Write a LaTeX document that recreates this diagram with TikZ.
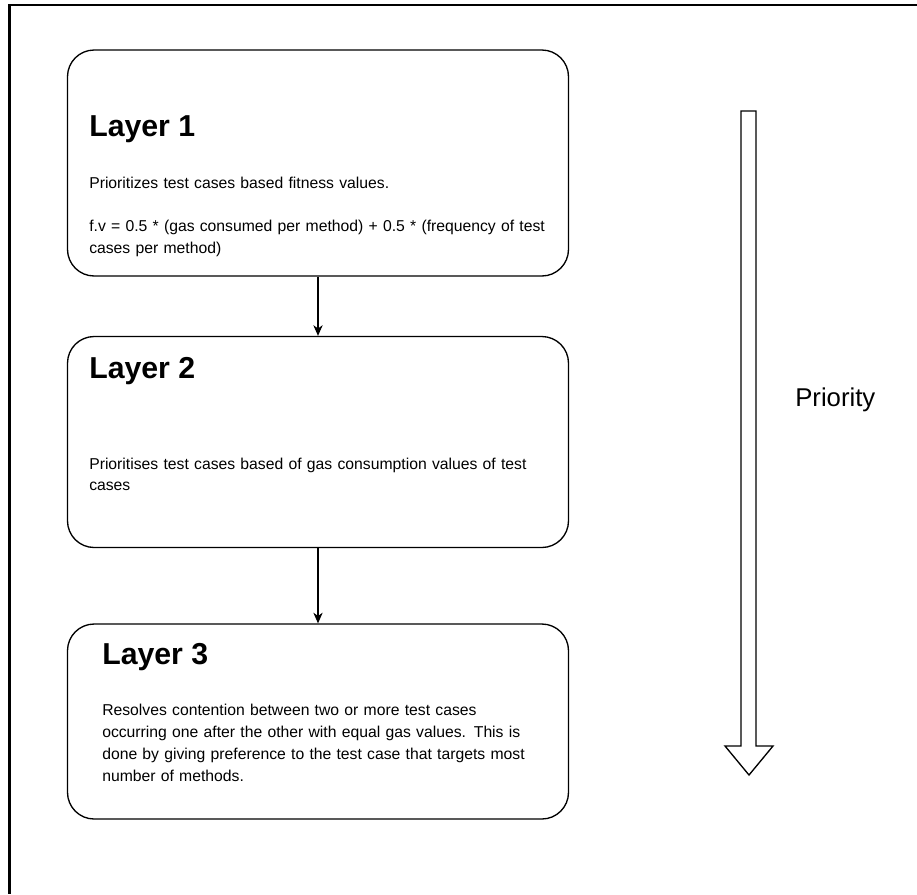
\documentclass[tikz,border=0pt]{standalone}
\usepackage{fontspec}
\setmainfont{Liberation Sans}
\usetikzlibrary{arrows.meta}
\begin{document}
\begin{tikzpicture}[x=0.75pt,y=-0.75pt,
  layerbox/.style={draw=black,line width=1pt,rounded corners=20pt,minimum width=375.75pt,inner sep=0pt},
  heading/.style={anchor=base west,inner sep=0pt,font=\fontsize{22.7}{27}\selectfont\bfseries},
  bodytext/.style={anchor=base west,inner sep=0pt,text width=360pt,align=left,font=\fontsize{11.8}{16.3}\selectfont},
  link/.style={draw=black,line width=0.8pt,-{Stealth[length=8pt,width=7pt,inset=2.5pt]}}]
\useasboundingbox (0,0) rectangle (917,894);
% frame
\draw[line width=1.6pt] (917,5) -- (9.5,5) -- (9.5,894);
% boxes
\node[layerbox,minimum height=169.5pt] (b1) at (318,163) {};
\node[layerbox,minimum height=158.25pt] (b2) at (318,442) {};
\node[layerbox,minimum height=146.25pt] (b3) at (318,721.5) {};
% texts
\node[heading] (h1) at (89,136.5) {Layer 1};
\node[bodytext] (t1) at (89,188.3) {Prioritizes test cases based fitness values.\\[16.3pt]
f.v = 0.5 * (gas consumed per method) + 0.5 * (frequency of test\\ cases per method)};
\node[heading] (h2) at (89,378.3) {Layer 2};
\node[bodytext] (t2) at (89,469) {Prioritises test cases based of gas consumption values of test\\ cases};
\node[heading] (h3) at (102,664.3) {Layer 3};
\node[bodytext,font=\fontsize{11.8}{16.5}\selectfont] (t3) at (102,715) {Resolves contention between two or more test cases\\
occurring one after the other with equal gas values. This is\\
done by giving preference to the test case that targets most\\
number of methods.};
% connectors
\draw[link] (b1) -- (b2);
\draw[link] (b2) -- (b3);
% priority arrow
\draw[line width=1pt,line join=miter] (741,111) -- (756,111) -- (756,746) -- (773,746) -- (749,775) -- (725,746) -- (741,746) -- cycle;
\node[anchor=base west,inner sep=0pt,font=\fontsize{19.3}{23}\selectfont] (pr) at (795,406.7) {Priority};
\end{tikzpicture}
\end{document}
